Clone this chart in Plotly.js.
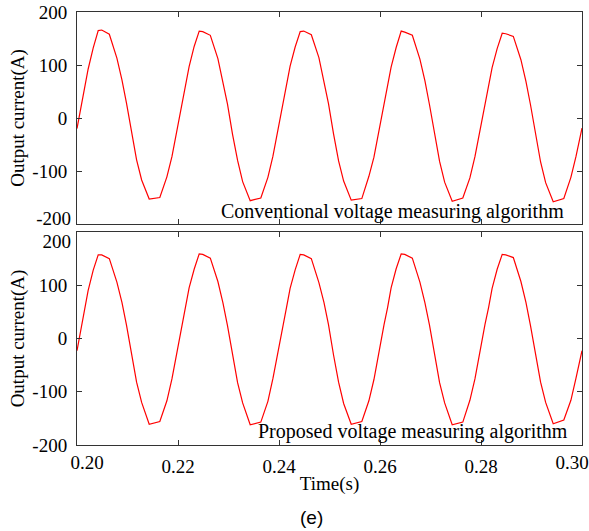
<!DOCTYPE html>
<html>
<head>
<meta charset="utf-8">
<script src="https://cdn.plot.ly/plotly-3.0.1.min.js"></script>
<style>html,body{margin:0;padding:0;background:#fff;}#chart{width:589px;height:531px;}</style>
</head>
<body>
<div id="chart"></div>
<script>
// Time samples (s)
const time = [
  0.2000, 0.2003, 0.2008, 0.2015, 0.2022, 0.2032, 0.2042, 0.2049, 0.2064, 0.2079, 0.2089, 0.2098, 0.2108, 0.2118, 0.2128, 0.2143, 0.2164, 0.2178, 0.2188, 0.2197,
  0.2200, 0.2203, 0.2208, 0.2215, 0.2222, 0.2232, 0.2242, 0.2249, 0.2264, 0.2279, 0.2289, 0.2298, 0.2308, 0.2318, 0.2328, 0.2343, 0.2364, 0.2378, 0.2388, 0.2397,
  0.2400, 0.2403, 0.2408, 0.2415, 0.2422, 0.2432, 0.2442, 0.2449, 0.2464, 0.2479, 0.2489, 0.2498, 0.2508, 0.2518, 0.2528, 0.2543, 0.2564, 0.2578, 0.2588, 0.2597,
  0.2600, 0.2603, 0.2608, 0.2615, 0.2622, 0.2632, 0.2642, 0.2649, 0.2664, 0.2679, 0.2689, 0.2698, 0.2708, 0.2718, 0.2728, 0.2743, 0.2764, 0.2778, 0.2788, 0.2797,
  0.2800, 0.2803, 0.2808, 0.2815, 0.2822, 0.2832, 0.2842, 0.2849, 0.2864, 0.2879, 0.2889, 0.2898, 0.2908, 0.2918, 0.2928, 0.2943, 0.2964, 0.2978, 0.2988, 0.2997,
  0.3000
];
// Output current (A), conventional algorithm
const currentConventional = [
  -20, -5, 20, 54, 92, 132, 165, 166, 158, 113, 72, 28, -29, -79, -117, -153, -150, -111, -73, -27,
  -12, 3, 28, 60, 97, 135, 164, 163, 156, 112, 70, 26, -31, -80, -120, -156, -151, -112, -72, -26,
  -11, 4, 29, 61, 98, 134, 163, 164, 157, 114, 71, 27, -30, -81, -119, -155, -152, -110, -74, -28,
  -13, 2, 27, 59, 96, 133, 164, 162, 156, 111, 70, 25, -31, -82, -121, -157, -151, -113, -73, -27,
  -12, 3, 27, 58, 95, 131, 160, 159, 154, 110, 69, 25, -32, -83, -122, -158, -152, -112, -73, -32,
  -19
];
// Output current (A), proposed algorithm
const currentProposed = [
  -23, -8, 18, 52, 90, 128, 157, 157, 150, 106, 68, 25, -32, -82, -120, -161, -156, -117, -76, -29,
  -14, 1, 26, 58, 95, 130, 159, 158, 151, 107, 67, 24, -33, -83, -121, -162, -157, -118, -75, -28,
  -13, 2, 27, 59, 94, 129, 158, 157, 150, 105, 68, 26, -31, -82, -122, -161, -156, -117, -77, -29,
  -14, 1, 26, 58, 95, 131, 159, 158, 151, 106, 67, 25, -32, -83, -121, -162, -157, -116, -76, -28,
  -13, 2, 27, 58, 94, 130, 158, 157, 152, 107, 68, 24, -33, -82, -120, -160, -153, -116, -75, -36,
  -23
];
const yTickVals = [-200, -100, 0, 100, 200];
const yTickTextUpper = ["", "-100", "0", "100", "200"];
const yTickTextLower = ["-200", "-100", "0", "100", ""];
const xTickVals = [0.20, 0.22, 0.24, 0.26, 0.28, 0.30];
const xTickText = ["", "0.22", "0.24", "0.26", "0.28", ""];
const xFirstLabel = "0.20";
const xLastLabel = "0.30";
const panelLabels = ["Conventional voltage measuring algorithm", "Proposed voltage measuring algorithm"];
const yTitle = "Output current(A)";
const xTitle = "Time(s)";
const caption = "(e)";

const serif = '"Liberation Serif", "Times New Roman", serif';
const tickFont = {family: serif, size: 19, color: '#000'};
const axisCommon = {
  showline: true, mirror: 'ticks', linecolor: '#333', linewidth: 1,
  ticks: 'inside', ticklen: 5, tickcolor: '#333', tickwidth: 1,
  showgrid: false, zeroline: false, tickfont: tickFont
};
const labelOnly = {showline: false, ticks: '', showgrid: false, zeroline: false, tickmode: 'array',
  tickfont: tickFont, ticklabeloverflow: 'allow'};
const xRange = [0.2, 0.3];
const yRange = [-200, 200];

const traces = [
  {x: time, y: currentConventional, xaxis: 'x', yaxis: 'y', type: 'scatter', mode: 'lines',
   line: {color: '#ff0000', width: 1.2}, showlegend: false, hoverinfo: 'skip'},
  {x: time, y: currentProposed, xaxis: 'x2', yaxis: 'y2', type: 'scatter', mode: 'lines',
   line: {color: '#ff0000', width: 1.2}, showlegend: false, hoverinfo: 'skip'},
  // empty traces so the label-only overlay axes get drawn
  {x: [], y: [], xaxis: 'x', yaxis: 'y3', type: 'scatter', mode: 'lines', showlegend: false, hoverinfo: 'skip'},
  {x: [], y: [], xaxis: 'x2', yaxis: 'y4', type: 'scatter', mode: 'lines', showlegend: false, hoverinfo: 'skip'},
  {x: [], y: [], xaxis: 'x3', yaxis: 'y2', type: 'scatter', mode: 'lines', showlegend: false, hoverinfo: 'skip'},
  {x: [], y: [], xaxis: 'x4', yaxis: 'y2', type: 'scatter', mode: 'lines', showlegend: false, hoverinfo: 'skip'}
];

const layout = {
  width: 589, height: 531,
  margin: {l: 77, r: 7, t: 12, b: 86},
  paper_bgcolor: '#fff', plot_bgcolor: '#fff',
  showlegend: false,
  xaxis: Object.assign({}, axisCommon, {anchor: 'y', range: xRange, tickmode: 'array',
    tickvals: xTickVals, ticktext: xTickText, showticklabels: false}),
  yaxis: Object.assign({}, axisCommon, {anchor: 'x', domain: [0.5104, 1], range: yRange,
    tickmode: 'array', tickvals: yTickVals, ticktext: yTickTextUpper, ticklabelstandoff: 5,
    title: {text: yTitle, font: {family: serif, size: 19, color: '#000'}, standoff: 2}}),
  // label-only axis carrying the nudged "-200" label of the upper panel
  yaxis3: Object.assign({}, labelOnly, {overlaying: 'y', anchor: 'x', side: 'left', range: yRange,
    tickvals: [yTickVals[0]], ticktext: [yTickTextLower[0]], ticklabelstandoff: 5, ticklabelshift: -6}),
  xaxis2: Object.assign({}, axisCommon, {anchor: 'y2', range: xRange, tickmode: 'array',
    tickvals: xTickVals, ticktext: xTickText, ticklabelstandoff: 4,
    title: {text: xTitle, font: {family: serif, size: 19, color: '#000'}, standoff: 0}}),
  // label-only axes carrying the nudged first/last time labels
  xaxis3: Object.assign({}, labelOnly, {overlaying: 'x2', anchor: 'y2', side: 'bottom', range: xRange,
    tickvals: [xTickVals[0]], ticktext: [xFirstLabel], ticklabelstandoff: 4, ticklabelshift: 10}),
  xaxis4: Object.assign({}, labelOnly, {overlaying: 'x2', anchor: 'y2', side: 'bottom', range: xRange,
    tickvals: [xTickVals[5]], ticktext: [xLastLabel], ticklabelstandoff: 4, ticklabelshift: -10}),
  yaxis2: Object.assign({}, axisCommon, {anchor: 'x2', domain: [0, 0.4919], range: yRange,
    tickmode: 'array', tickvals: yTickVals, ticktext: yTickTextLower, ticklabelstandoff: 5,
    title: {text: yTitle, font: {family: serif, size: 19, color: '#000'}, standoff: 2}}),
  // label-only axis carrying the nudged "200" label of the lower panel
  yaxis4: Object.assign({}, labelOnly, {overlaying: 'y2', anchor: 'x2', side: 'left', range: yRange,
    tickvals: [yTickVals[4]], ticktext: [yTickTextUpper[4]], ticklabelstandoff: 5, ticklabelshift: 9}),
  annotations: [
    {text: panelLabels[0], xref: 'x domain', yref: 'y domain', x: 0.968, y: 0.06,
     xanchor: 'right', yanchor: 'middle', showarrow: false,
     font: {family: serif, size: 20, color: '#000'}},
    {text: panelLabels[1], xref: 'x2 domain', yref: 'y2 domain', x: 0.976, y: 0.062,
     xanchor: 'right', yanchor: 'middle', showarrow: false,
     font: {family: serif, size: 20, color: '#000'}},
    {text: caption, xref: 'paper', yref: 'paper', x: (311 - 77) / 505, y: -(517 - 445) / 433,
     xanchor: 'center', yanchor: 'middle', showarrow: false,
     font: {family: '"Liberation Sans", Arial, sans-serif', size: 19, color: '#000'}}
  ]
};

Plotly.newPlot('chart', traces, layout, {displayModeBar: false, staticPlot: true});
</script>
</body>
</html>
